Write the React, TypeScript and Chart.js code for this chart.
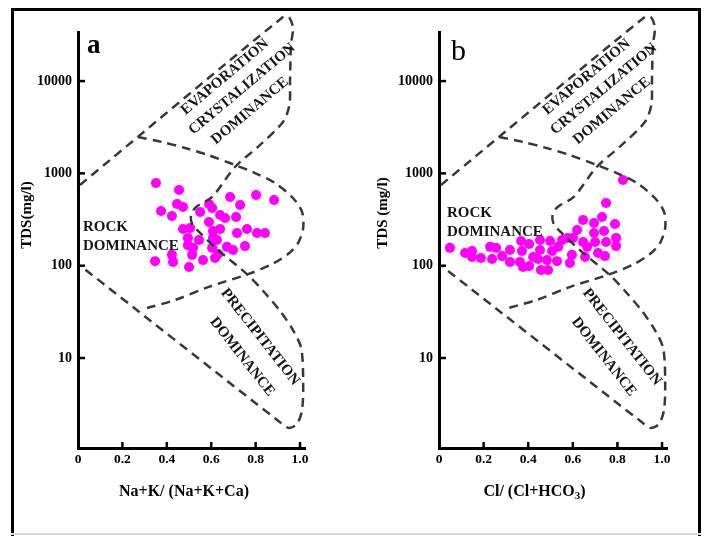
import React, { useEffect, useRef } from 'react';
import { Chart, registerables } from 'chart.js';

Chart.register(...registerables);

// ---------- data ----------
const xTickValues = [0, 0.2, 0.4, 0.6, 0.8, 1.0];
const xTickLabels = ['0', '0.2', '0.4', '0.6', '0.8', '1.0'];
const yTickValues = [10, 100, 1000, 10000];
const yTickLabels = ['10', '100', '1000', '10000'];

// Panel a: Na+K/(Na+K+Ca) vs TDS
const naKRatio = [0.351, 0.455, 0.685, 0.802, 0.883, 0.374, 0.446, 0.473, 0.423, 0.550, 0.590, 0.604, 0.730, 0.640, 0.662, 0.712, 0.590, 0.473, 0.505, 0.608, 0.640, 0.716, 0.761, 0.806, 0.842, 0.495, 0.545, 0.608, 0.626, 0.671, 0.698, 0.752, 0.518, 0.604, 0.423, 0.347, 0.428, 0.563, 0.617, 0.500, 0.631, 0.495, 0.514];
const tdsA = [787, 661, 555, 583, 515, 392, 466, 433, 346, 382, 466, 422, 455, 354, 329, 337, 297, 250, 256, 238, 250, 226, 250, 226, 226, 200, 190, 200, 190, 160, 148, 163, 156, 156, 131, 112, 110, 115, 121, 97, 134, 167, 131];

// Panel b: Cl/(Cl+HCO3) vs TDS
const clRatio = [0.825, 0.749, 0.731, 0.646, 0.695, 0.789, 0.619, 0.695, 0.740, 0.794, 0.578, 0.646, 0.700, 0.749, 0.794, 0.049, 0.117, 0.148, 0.148, 0.188, 0.229, 0.256, 0.238, 0.283, 0.318, 0.318, 0.368, 0.372, 0.363, 0.404, 0.377, 0.404, 0.422, 0.453, 0.453, 0.444, 0.457, 0.489, 0.498, 0.507, 0.534, 0.552, 0.529, 0.596, 0.587, 0.664, 0.655, 0.713, 0.744, 0.484, 0.601];
const tdsB = [848, 478, 337, 313, 290, 283, 244, 226, 238, 200, 200, 181, 181, 181, 163, 156, 137, 144, 124, 121, 160, 156, 118, 127, 148, 110, 185, 144, 110, 172, 97, 99, 124, 190, 148, 118, 90, 90, 185, 144, 160, 190, 112, 131, 107, 160, 124, 137, 127, 115, 200];

// Gibbs boundary curves (shared by both panels)
const outerBoundaryX = [0.009, 0.923, 0.950, 0.968, 0.959, 0.955, 0.952, 0.923, 0.820, 0.707, 0.604, 0.532, 0.509, 0.514, 0.536, 0.631, 0.766, 0.842, 0.910, 0.968, 1.005, 1.014, 1.009, 0.986, 0.950, 0.914, 0.018];
const outerBoundaryY = [749, 49400, 49400, 37600, 24600, 10280, 5500, 3600, 2032, 1172, 555, 433, 354, 283, 244, 148, 79, 50.6, 32.3, 20.1, 12.8, 5.78, 2.74, 1.93, 1.75, 1.98, 96.8];
const innerBoundaryX = [0.270, 0.378, 0.482, 0.586, 0.707, 0.797, 0.887, 0.968, 1.009, 1.014, 0.991, 0.946, 0.874, 0.766, 0.586, 0.437, 0.311];
const innerBoundaryY = [2477, 2188, 1884, 1582, 1233, 1009, 787, 541, 382, 256, 176, 134, 104, 81, 58.7, 42.5, 34.8];

const regionLabels = [
  { text: 'EVAPORATION', x: 0.662, y: 11070, angle: -40 },
  { text: 'CRYSTALIZATION', x: 0.739, y: 8200, angle: -40 },
  { text: 'DOMINANCE', x: 0.775, y: 4740, angle: -40 },
  { text: 'PRECIPITATION', x: 0.820, y: 16.9, angle: 52 },
  { text: 'DOMINANCE', x: 0.739, y: 10.3, angle: 52 },
];

const SERIF = '"Liberation Serif", "Times New Roman", Times, serif';

type Panel = {
  xs: number[];
  ys: number[];
  letter: string;
  letterFont: string;
  letterDx: number;
  letterDy: number;
  yTitle: string;
  yTitleDx: number;
  yTitleDy: number;
  xTitle: [string, boolean][];
  xTitleDx: number;
  xTitleDy: number;
  rockX: number;
  rockY: number;
  domY: number;
  leftWidth: number;
  rightPad: number;
};

const panelA: Panel = {
  xs: naKRatio, ys: tdsA,
  letter: 'a', letterFont: `bold 27px ${SERIF}`, letterDx: 9, letterDy: 21,
  yTitle: 'TDS(mg/l)', yTitleDx: -51, yTitleDy: 183,
  xTitle: [['Na+K/ (Na+K+Ca)', false]], xTitleDx: 106, xTitleDy: 44,
  rockX: 0.0225, rockY: 262, domY: 163,
  leftWidth: 78, rightPad: 48.4,
};
const panelB: Panel = {
  xs: clRatio, ys: tdsB,
  letter: 'b', letterFont: `30px ${SERIF}`, letterDx: 12, letterDy: 28,
  yTitle: 'TDS (mg/l)', yTitleDx: -56, yTitleDy: 181,
  xTitle: [['Cl/ (Cl+HCO', false], ['3', true], [')', false]], xTitleDx: 95.5, xTitleDy: 44,
  rockX: 0.036, rockY: 372, domY: 232,
  leftWidth: 85, rightPad: 40.4,
};

function makeOverlay(p: Panel) {
  return {
    id: 'gibbsOverlay',
    afterDraw(chart: any) {
      const { ctx, chartArea: ca, scales } = chart;
      const xs = scales.x;
      const ys = scales.y;
      ctx.save();
      // inward tick marks
      ctx.strokeStyle = '#000';
      ctx.lineWidth = 2.5;
      yTickValues.forEach((v) => {
        const py = ys.getPixelForValue(v);
        ctx.beginPath();
        ctx.moveTo(ca.left - 1, py);
        ctx.lineTo(ca.left + 7, py);
        ctx.stroke();
      });
      xTickValues.slice(1).forEach((v) => {
        const px = xs.getPixelForValue(v);
        ctx.beginPath();
        ctx.moveTo(px, ca.bottom + 1);
        ctx.lineTo(px, ca.bottom - 6);
        ctx.stroke();
      });

      ctx.fillStyle = '#151515';
      // region labels
      ctx.font = `bold 15px ${SERIF}`;
      ctx.textAlign = 'center';
      ctx.textBaseline = 'middle';
      regionLabels.forEach((t) => {
        const px = xs.getPixelForValue(t.x);
        const py = ys.getPixelForValue(t.y);
        ctx.save();
        ctx.translate(px, py);
        ctx.rotate((t.angle * Math.PI) / 180);
        ctx.fillText(t.text, 0, 0);
        ctx.restore();
      });
      ctx.textAlign = 'left';
      ctx.fillText('ROCK', xs.getPixelForValue(p.rockX), ys.getPixelForValue(p.rockY));
      ctx.fillText('DOMINANCE', xs.getPixelForValue(p.rockX), ys.getPixelForValue(p.domY));

      // panel letter
      ctx.fillStyle = '#000';
      ctx.font = p.letterFont;
      ctx.textBaseline = 'alphabetic';
      ctx.fillText(p.letter, ca.left + p.letterDx, ca.top + p.letterDy);

      // y title
      ctx.font = `bold 15px ${SERIF}`;
      ctx.textAlign = 'center';
      ctx.textBaseline = 'middle';
      ctx.save();
      ctx.translate(ca.left + p.yTitleDx, ca.top + p.yTitleDy);
      ctx.rotate(-Math.PI / 2);
      ctx.fillText(p.yTitle, 0, 0);
      ctx.restore();

      // x title (with optional subscript)
      const mainFont = `bold 16px ${SERIF}`;
      const subFont = `bold 11px ${SERIF}`;
      let total = 0;
      p.xTitle.forEach(([s, sub]) => {
        ctx.font = sub ? subFont : mainFont;
        total += ctx.measureText(s).width;
      });
      let cx = ca.left + p.xTitleDx - total / 2;
      const cy = ca.bottom + p.xTitleDy;
      ctx.textAlign = 'left';
      p.xTitle.forEach(([s, sub]) => {
        ctx.font = sub ? subFont : mainFont;
        ctx.fillText(s, cx, sub ? cy + 4 : cy);
        cx += ctx.measureText(s).width;
      });
      ctx.restore();
    },
  };
}

function buildConfig(p: Panel): any {
  const points = p.xs.map((x, i) => ({ x, y: p.ys[i] }));
  const outer = outerBoundaryX.map((x, i) => ({ x, y: outerBoundaryY[i] }));
  const inner = innerBoundaryX.map((x, i) => ({ x, y: innerBoundaryY[i] }));
  const boundary = {
    showLine: true,
    pointRadius: 0,
    pointHoverRadius: 0,
    borderColor: '#383838',
    borderWidth: 2.5,
    borderDash: [9, 6],
    tension: 0.3,
    clip: false,
    fill: false,
  };
  return {
    type: 'scatter',
    data: {
      datasets: [
        { ...boundary, data: outer },
        { ...boundary, data: inner },
        {
          data: points,
          showLine: false,
          pointRadius: 5,
          pointHoverRadius: 5,
          pointBackgroundColor: '#ff00ff',
          pointBorderWidth: 0,
          borderWidth: 0,
        },
      ],
    },
    options: {
      animation: false,
      responsive: false,
      maintainAspectRatio: false,
      events: [],
      layout: { padding: { left: 0, top: 32, right: p.rightPad, bottom: 58 } },
      elements: { line: { capBezierPoints: false } },
      plugins: { legend: { display: false }, tooltip: { enabled: false }, title: { display: false } },
      scales: {
        x: {
          type: 'linear',
          position: 'bottom',
          min: 0,
          max: 1.025,
          grid: { display: false, drawTicks: false },
          border: { display: true, color: '#000', width: 3 },
          ticks: {
            color: '#000',
            font: { family: SERIF, size: 13.5, weight: 'bold' },
            padding: 3,
            maxRotation: 0,
            autoSkip: false,
            callback: (_v: any, i: number) => xTickLabels[i],
          },
          afterBuildTicks: (s: any) => {
            s.ticks = xTickValues.map((v) => ({ value: v }));
          },
          afterFit: (s: any) => {
            s.height = 30;
          },
        },
        y: {
          type: 'logarithmic',
          position: 'left',
          min: 1.06,
          max: 34000,
          grid: { display: false, drawTicks: false },
          border: { display: true, color: '#000', width: 3 },
          ticks: {
            color: '#000',
            font: { family: SERIF, size: 14, weight: 'bold' },
            padding: 6,
            autoSkip: false,
            callback: (_v: any, i: number) => yTickLabels[i],
          },
          afterBuildTicks: (s: any) => {
            s.ticks = yTickValues.map((v) => ({ value: v }));
          },
          afterFit: (s: any) => {
            s.width = p.leftWidth;
          },
        },
      },
    },
    plugins: [makeOverlay(p)],
  };
}

function GibbsPanel({ panel, left }: { panel: Panel; left: number }) {
  const ref = useRef<HTMLCanvasElement | null>(null);
  useEffect(() => {
    if (!ref.current) return;
    const chart = new Chart(ref.current, buildConfig(panel));
    return () => chart.destroy();
  }, [panel]);
  return (
    <canvas
      ref={ref}
      width={354}
      height={536}
      style={{ position: 'absolute', left, top: 0, width: 354, height: 536, display: 'block' }}
    />
  );
}

export default function App() {
  return (
    <div
      style={{
        position: 'fixed',
        left: 0,
        top: 0,
        width: 708,
        height: 536,
        overflow: 'hidden',
        background: '#fff',
      }}
    >
      <GibbsPanel panel={panelA} left={0} />
      <GibbsPanel panel={panelB} left={354} />
      <div
        style={{
          position: 'absolute',
          left: 11,
          top: 8,
          width: 684,
          height: 600,
          border: '3px solid #000',
          pointerEvents: 'none',
        }}
      />
      <div
        style={{
          position: 'absolute',
          left: 11,
          top: 533,
          width: 690,
          height: 2,
          background: '#d8d8d8',
          pointerEvents: 'none',
        }}
      />
    </div>
  );
}
